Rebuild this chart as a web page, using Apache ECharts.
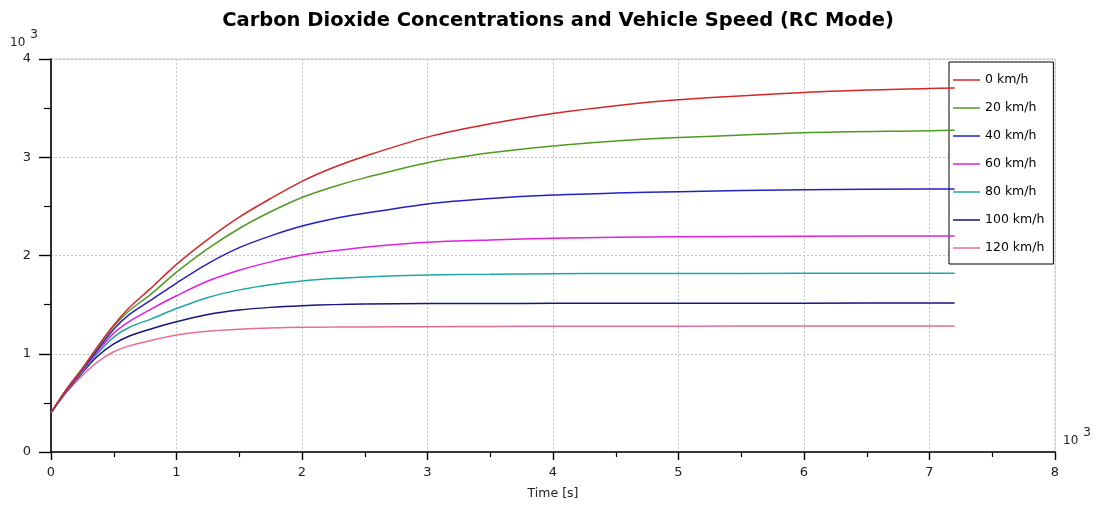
<!DOCTYPE html>
<html>
<head>
<meta charset="utf-8">
<title>Carbon Dioxide Concentrations and Vehicle Speed (RC Mode)</title>
<script src="https://cdn.jsdelivr.net/npm/echarts@6/dist/echarts.min.js"></script>
<style>
  html, body { margin: 0; padding: 0; background: #fff; }
  #chart { width: 1100px; height: 506px; }
</style>
</head>
<body>
<div id="chart"></div>
<script>
// Time samples, in units of 10^3 s
const timeK = [0, 0.125, 0.25, 0.375, 0.5, 0.625, 0.79, 1, 1.25, 1.5, 1.75, 2, 2.25, 2.5, 3, 3.5, 4, 4.5, 5, 6, 7, 7.2];

// CO2 concentration per vehicle speed, in units of 10^3
const co2Speed0   = [0.4, 0.64, 0.85, 1.08, 1.29, 1.47, 1.66, 1.91, 2.165, 2.39, 2.58, 2.755, 2.895, 3.01, 3.205, 3.34, 3.445, 3.525, 3.585, 3.66, 3.70, 3.705];
const co2Speed20  = [0.4, 0.64, 0.85, 1.07, 1.28, 1.44, 1.60, 1.83, 2.07, 2.275, 2.445, 2.59, 2.70, 2.79, 2.945, 3.045, 3.115, 3.165, 3.20, 3.25, 3.27, 3.275];
const co2Speed40  = [0.4, 0.64, 0.84, 1.05, 1.25, 1.40, 1.54, 1.72, 1.918, 2.08, 2.20, 2.30, 2.375, 2.43, 2.525, 2.58, 2.616, 2.635, 2.65, 2.67, 2.677, 2.678];
const co2Speed60  = [0.4, 0.63, 0.83, 1.03, 1.21, 1.33, 1.45, 1.59, 1.74, 1.85, 1.935, 2.005, 2.048, 2.085, 2.134, 2.158, 2.175, 2.185, 2.191, 2.197, 2.198, 2.198];
const co2Speed80  = [0.4, 0.63, 0.82, 1.01, 1.17, 1.27, 1.35, 1.46, 1.573, 1.65, 1.703, 1.74, 1.765, 1.782, 1.802, 1.809, 1.815, 1.816, 1.817, 1.819, 1.82, 1.82];
const co2Speed100 = [0.4, 0.62, 0.81, 0.98, 1.10, 1.18, 1.25, 1.326, 1.40, 1.445, 1.472, 1.489, 1.50, 1.506, 1.511, 1.512, 1.513, 1.513, 1.514, 1.515, 1.516, 1.516];
const co2Speed120 = [0.4, 0.61, 0.78, 0.92, 1.02, 1.08, 1.133, 1.191, 1.23, 1.249, 1.262, 1.27, 1.271, 1.273, 1.276, 1.278, 1.28, 1.28, 1.281, 1.282, 1.282, 1.282];

const seriesNames = ['0 km/h', '20 km/h', '40 km/h', '60 km/h', '80 km/h', '100 km/h', '120 km/h'];
const seriesValues = [co2Speed0, co2Speed20, co2Speed40, co2Speed60, co2Speed80, co2Speed100, co2Speed120];
const seriesColors = ['#d42626', '#4f9a22', '#2222c4', '#e020e0', '#1fa6a6', '#16167c', '#e86c96'];

const xTicks = [0, 1, 2, 3, 4, 5, 6, 7, 8];
const yTicks = [0, 1, 2, 3, 4];

const FONT = 'DejaVu Sans';

const chart = echarts.init(document.getElementById('chart'), null, { renderer: 'canvas' });

const series = seriesNames.map((name, i) => ({
  name: name,
  type: 'line',
  data: timeK.map((t, k) => [t, seriesValues[i][k]]),
  smooth: 0.3,
  symbol: 'none',
  lineStyle: { color: seriesColors[i], width: 1.5 },
  itemStyle: { color: seriesColors[i] },
  z: 3 + (seriesNames.length - i)
}));

const axisCommon = {
  type: 'value',
  interval: 1,
  axisLine: { show: true, onZero: false, lineStyle: { color: '#000', width: 1.6 } },
  splitLine: { show: true, lineStyle: { color: '#c4c4c4', type: [2, 2], width: 1 } },
  minorSplitLine: { show: false },
  axisLabel: { color: '#222', fontFamily: FONT, fontSize: 13 }
};

const superscriptTen = {
  b: { fontFamily: FONT, fontSize: 12, fill: '#222', verticalAlign: 'bottom', padding: [8, 0, 0, 0] },
  s: { fontFamily: FONT, fontSize: 12, fill: '#222', verticalAlign: 'top', padding: [0, 0, 0, 5] }
};

chart.setOption({
  animation: false,
  backgroundColor: '#fff',
  title: {
    text: 'Carbon Dioxide Concentrations and Vehicle Speed (RC Mode)',
    left: 553,
    textAlign: 'center',
    top: 6,
    textStyle: { fontFamily: FONT, fontWeight: 'bold', fontSize: 19.5, color: '#000' }
  },
  grid: {
    left: 51, right: 45, top: 59, bottom: 54,
    show: true, borderColor: '#cfcfcf', borderWidth: 1, backgroundColor: 'transparent'
  },
  xAxis: Object.assign({}, axisCommon, {
    min: xTicks[0], max: xTicks[xTicks.length - 1],
    axisTick: { show: true, length: 8, lineStyle: { color: '#000', width: 1.4 } },
    minorTick: { show: true, splitNumber: 2, length: 5, lineStyle: { color: '#000', width: 1.2 } },
    axisLabel: Object.assign({}, axisCommon.axisLabel, { margin: 14 }),
    name: 'Time [s]',
    nameLocation: 'middle',
    nameGap: 35,
    nameTextStyle: { fontFamily: FONT, fontSize: 12.5, color: '#222' }
  }),
  yAxis: Object.assign({}, axisCommon, {
    min: yTicks[0], max: yTicks[yTicks.length - 1],
    axisTick: { show: true, length: 12, lineStyle: { color: '#000', width: 1.4 } },
    minorTick: { show: true, splitNumber: 2, length: 7, lineStyle: { color: '#000', width: 1.2 } },
    axisLabel: Object.assign({}, axisCommon.axisLabel, { margin: 20 })
  }),
  legend: {
    orient: 'vertical',
    left: 949,
    top: 62,
    padding: [11, 9, 9, 4],
    backgroundColor: '#fff',
    borderColor: '#000',
    borderWidth: 1,
    borderRadius: 0,
    icon: 'rect',
    itemWidth: 27,
    itemHeight: 1.5,
    itemGap: 14,
    textStyle: { fontFamily: FONT, fontSize: 12.5, color: '#000', lineHeight: 14 },
    data: seriesNames
  },
  graphic: [
    { type: 'text', left: 10, top: 29, z: 10, style: { text: '{b|10}{s|3}', rich: superscriptTen } },
    { type: 'text', left: 1063, top: 427, z: 10, style: { text: '{b|10}{s|3}', rich: superscriptTen } }
  ],
  series: series
});
</script>
</body>
</html>
